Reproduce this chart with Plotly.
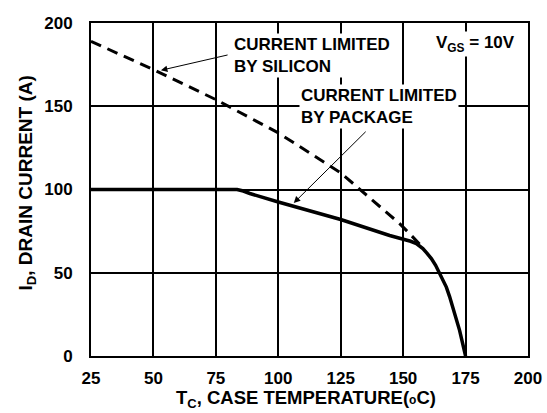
import plotly.graph_objects as go

# Data
temp_silicon = [25, 50, 75, 100, 125, 148.6, 152.6, 157]
id_silicon = [189, 172, 154, 134, 110, 79.5, 73.5, 66.5]

temp_package = [25, 83.5, 86, 88.6, 100, 125, 144.6, 150, 153, 155.3, 157.9, 159.5, 161.3, 163, 164.6,
                166, 167.3, 168.6, 169.9, 172.6, 175]
id_package = [100, 100, 99.1, 97.6, 92.5, 82, 72.4, 70.3, 68.9, 67.5, 64.5, 61.8, 58.5, 54.5, 50,
              45.9, 41.4, 35.7, 29.4, 15.4, 0]

x_ticks = [25, 50, 75, 100, 125, 150, 175, 200]
y_ticks = [0, 50, 100, 150, 200]

FONT = "Liberation Sans"

fig = go.Figure()
fig.add_trace(go.Scatter(x=temp_silicon, y=id_silicon, mode="lines",
                         line=dict(color="black", width=3, dash="11px,7px"),
                         showlegend=False, hoverinfo="skip"))
fig.add_trace(go.Scatter(x=temp_package, y=id_package, mode="lines",
                         line=dict(color="black", width=3.5),
                         showlegend=False, hoverinfo="skip"))

axis_common = dict(showgrid=True, gridcolor="black", gridwidth=1.5,
                   showline=True, linecolor="black", linewidth=2, mirror=True,
                   zeroline=False, ticks="", automargin=False,
                   tickfont=dict(family=FONT, size=17, color="black", weight="bold"))

fig.update_xaxes(range=[25, 200], tickvals=x_ticks, ticklabelstandoff=6, **axis_common)
fig.update_yaxes(range=[0, 200], tickvals=y_ticks, ticklabelstandoff=13, **axis_common)

bold = dict(family=FONT, size=17, color="black", weight="bold")
annotations = [
    dict(x=81.6, y=180.6, xref="x", yref="y", xanchor="left", yanchor="middle", align="left",
         text="CURRENT LIMITED<br>BY SILICON", showarrow=False, font=bold, bgcolor="white"),
    dict(x=108.2, y=149.7, xref="x", yref="y", xanchor="left", yanchor="middle", align="left",
         text="CURRENT LIMITED<br>BY PACKAGE", showarrow=False, font=bold, bgcolor="white"),
    dict(x=162.5, y=187.5, xref="x", yref="y", xanchor="left", yanchor="middle", align="left",
         text="V<sub>GS</sub> = 10V", showarrow=False, font=bold, bgcolor="white"),
    dict(x=53.0, y=171.6, ax=80.3, ay=181.0, xref="x", yref="y", axref="x", ayref="y",
         text="", showarrow=True, arrowhead=2, arrowsize=1.3, arrowwidth=1, arrowcolor="black", standoff=0),
    dict(x=106.2, y=91.9, ax=135.6, ay=135.6, xref="x", yref="y", axref="x", ayref="y",
         text="", showarrow=True, arrowhead=2, arrowsize=1.3, arrowwidth=1, arrowcolor="black", standoff=0),
    dict(x=-0.147, y=0.52, xref="paper", yref="paper", xanchor="center", yanchor="middle",
         textangle=-90, text="I<sub>D</sub>, DRAIN CURRENT (A)", showarrow=False,
         font=dict(family=FONT, size=19, color="black", weight="bold")),
    dict(x=0.4926, y=-0.128, xref="paper", yref="paper", xanchor="center", yanchor="middle",
         text="T<sub>C</sub>, CASE TEMPERATURE(<span style='font-size:12px'>o</span>C)", showarrow=False,
         font=dict(family=FONT, size=18.5, color="black", weight="bold")),
]

fig.update_layout(width=547, height=413, autosize=False,
                  margin=dict(l=91, r=18.5, t=22.7, b=57.3, autoexpand=False),
                  plot_bgcolor="white", paper_bgcolor="white",
                  annotations=annotations)

fig.write_html("out.html", config={"displayModeBar": False},
               post_script="document.body.style.margin='0px';document.body.style.overflow='hidden';")
